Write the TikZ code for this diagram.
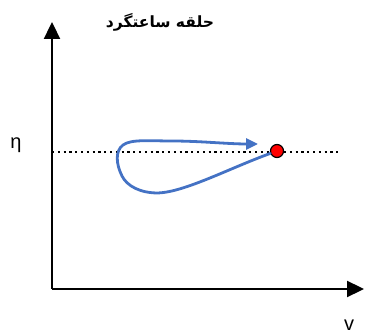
\documentclass[tikz,border=0pt]{standalone}
\usepackage{fontspec}
\usetikzlibrary{arrows.meta}
\newfontfamily\arabicfont[Script=Arabic]{DejaVu Sans}
\newfontfamily\labelfont{Liberation Sans}
\TeXXeTstate=1

\begin{document}
\begin{tikzpicture}[x=1pt, y=-1pt,
  axis/.style={black, line width=2.3pt, -{Triangle[width=16pt,length=17pt]}},
  loop/.style={color={rgb,255:red,68;green,114;blue,196}, line width=2.8pt, line cap=round,
    -{Triangle[width=11pt,length=12pt]}},
  level/.style={black, line width=2.2pt, dash pattern=on 2.2pt off 3.6pt}]
  \useasboundingbox (0,0) rectangle (377,336);

  % axes
  \coordinate (o) at (52,289);
  \coordinate (ytip) at (52,22);
  \coordinate (xtip) at (364,289);
  \draw[axis] (o) -- (ytip);
  \draw[axis] (o) -- (xtip);
  \node[font=\labelfont\fontsize{20}{24}\selectfont] (eta) at (16,145) {η};
  \node[font=\labelfont\fontsize{20}{24}\selectfont] (vlab) at (349,325) {v};

  % title
  \node[font=\arabicfont\bfseries\fontsize{15.5}{18}\selectfont] (title) at (160,22) {\beginR حلقه ساعتگرد\endR};

  % level line and point
  \coordinate (la) at (52,152);
  \coordinate (lb) at (340,152);
  \draw[level] (la) -- (lb);
  \node[circle, draw=black, fill=red, line width=1.2pt, minimum size=13pt, inner sep=0pt] (pt) at (277,151) {};

  % clockwise loop
  \draw[loop] (pt) .. controls (230,168) and (185,192) .. (158,193)
    .. controls (140,193) and (127,186) .. (122,176)
    .. controls (116,164) and (115,151) .. (123,145)
    .. controls (131,139) and (150,141) .. (172,141)
    .. controls (200,141) and (228,144) .. (258,144);
\end{tikzpicture}
\end{document}
